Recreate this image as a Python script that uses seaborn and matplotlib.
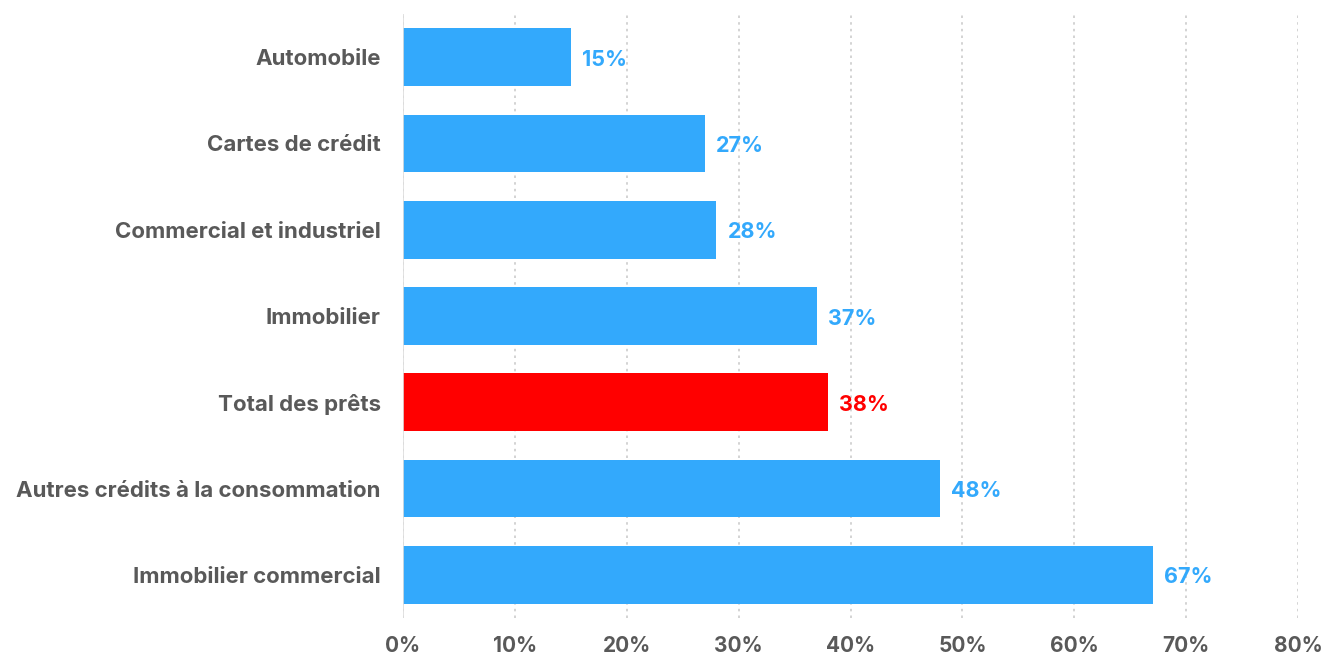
import matplotlib
matplotlib.use("Agg")
import matplotlib.pyplot as plt
import seaborn as sns
import pandas as pd

categories = ["Automobile", "Cartes de crédit", "Commercial et industriel", "Immobilier",
              "Total des prêts", "Autres crédits à la consommation", "Immobilier commercial"]
values = [15, 27, 28, 37, 38, 48, 67]
highlight = [False, False, False, False, True, False, False]
xticks = [0, 10, 20, 30, 40, 50, 60, 70, 80]

BLUE = "#33A9FC"
RED = "#FF0000"
GRAY = "#595959"

sns.set_theme(style="white")
plt.rcParams['font.family'] = ['Inter', 'DejaVu Sans']

df = pd.DataFrame({"cat": categories, "val": values,
                   "grp": ["hl" if h else "n" for h in highlight]})

fig = plt.figure(figsize=(13.25, 6.55), dpi=100)
ax = fig.add_axes([403/1325, 1-618/655, (1298-403)/1325, (618-14)/655])

sns.barplot(data=df, y="cat", x="val", hue="grp", palette={"n": BLUE, "hl": RED},
            order=categories, dodge=False, width=0.67, legend=False, ax=ax,
            saturation=1, edgecolor="none")

ax.set_xlim(0, 80)
ax.set_ylim(6.5, -0.5)
ax.set_xticks(xticks)
ax.set_xticklabels([f"{t}%" for t in xticks])
ax.set_xlabel("")
ax.set_ylabel("")
for s in ax.spines.values():
    s.set_visible(False)
ax.grid(axis="x", color="#cccccc", linestyle=(0, (1.5, 2.5)), linewidth=1.2)
ax.grid(axis="y", visible=False)
ax.axvline(0, color="#dddddd", linewidth=1.2, zorder=3)
ax.set_axisbelow(True)
ax.tick_params(axis="x", length=0, pad=13, labelsize=15, labelcolor=GRAY)
ax.tick_params(axis="y", length=0, pad=16, labelsize=16, labelcolor=GRAY)
for lbl in ax.get_xticklabels() + ax.get_yticklabels():
    lbl.set_fontweight("bold")

for i, (v, h) in enumerate(zip(values, highlight)):
    ax.text(v + 1.0, i + 0.03, f"{v}%", va="center", ha="left", fontsize=15.5,
            fontweight="bold", color=RED if h else BLUE)

fig.savefig("out.png", dpi=100)
